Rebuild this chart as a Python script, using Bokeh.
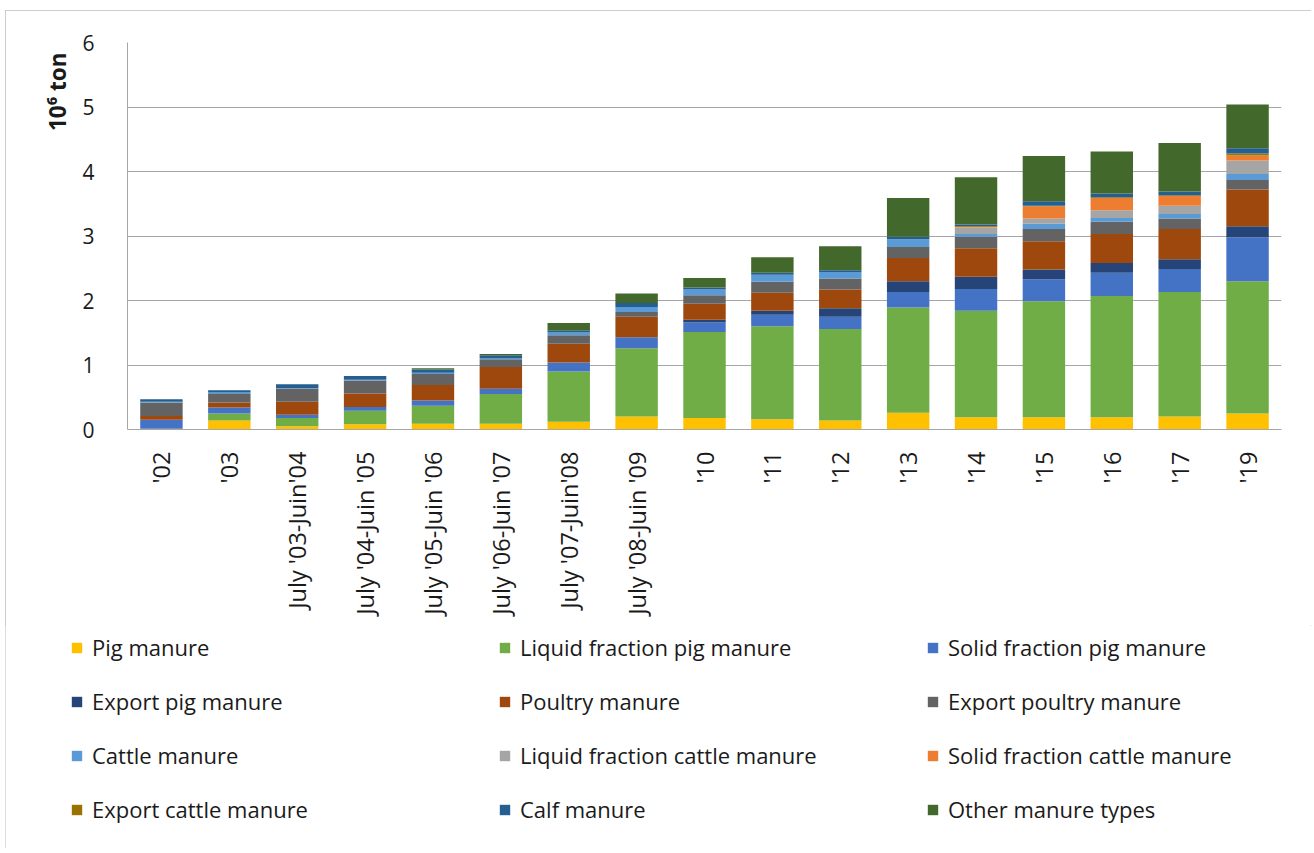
from math import pi
from bokeh.plotting import figure
from bokeh.layouts import column, row
from bokeh.models import (ColumnDataSource, FactorRange, Range1d, FixedTicker,
                          Legend, LegendItem, Title)
from bokeh.embed import file_html
from bokeh.resources import INLINE

categories = ["'02", "'03", "July '03-Juin'04", "July '04-Juin '05", "July '05-Juin '06",
              "July '06-Juin '07", "July '07-Juin'08", "July '08-Juin '09", "'10", "'11",
              "'12", "'13", "'14", "'15", "'16", "'17", "'19"]

pig_manure = [0.01, 0.14, 0.05, 0.08, 0.09, 0.09, 0.12, 0.20, 0.18, 0.16, 0.14, 0.26, 0.19, 0.19, 0.19, 0.20, 0.25]
liquid_fraction_pig = [0.0, 0.11, 0.13, 0.21, 0.28, 0.46, 0.78, 1.06, 1.33, 1.44, 1.42, 1.63, 1.65, 1.80, 1.88, 1.93, 2.05]
solid_fraction_pig = [0.14, 0.09, 0.05, 0.06, 0.08, 0.08, 0.14, 0.17, 0.15, 0.18, 0.19, 0.24, 0.34, 0.34, 0.36, 0.36, 0.68]
export_pig = [0.0, 0.0, 0.0, 0.0, 0.0, 0.0, 0.0, 0.0, 0.04, 0.06, 0.13, 0.17, 0.19, 0.15, 0.15, 0.15, 0.17]
poultry_manure = [0.06, 0.08, 0.20, 0.21, 0.24, 0.34, 0.29, 0.32, 0.25, 0.28, 0.29, 0.36, 0.44, 0.44, 0.45, 0.47, 0.57]
export_poultry = [0.21, 0.13, 0.20, 0.20, 0.17, 0.12, 0.13, 0.07, 0.13, 0.17, 0.17, 0.17, 0.18, 0.19, 0.19, 0.16, 0.15]
cattle_manure = [0.01, 0.025, 0.01, 0.01, 0.02, 0.02, 0.05, 0.08, 0.09, 0.11, 0.10, 0.12, 0.04, 0.08, 0.06, 0.07, 0.09]
liquid_fraction_cattle = [0.0, 0.0, 0.0, 0.0, 0.0, 0.0, 0.0, 0.0, 0.0, 0.0, 0.0, 0.0, 0.10, 0.08, 0.12, 0.13, 0.21]
solid_fraction_cattle = [0.0, 0.0, 0.0, 0.0, 0.0, 0.0, 0.0, 0.0, 0.0, 0.0, 0.0, 0.0, 0.01, 0.19, 0.19, 0.15, 0.08]
export_cattle = [0.0, 0.0, 0.0, 0.0, 0.0, 0.0, 0.0, 0.0, 0.0, 0.0, 0.0, 0.0, 0.01, 0.01, 0.01, 0.01, 0.03]
calf_manure = [0.04, 0.035, 0.06, 0.06, 0.05, 0.04, 0.02, 0.06, 0.03, 0.03, 0.03, 0.04, 0.03, 0.07, 0.06, 0.06, 0.08]
other_manure = [0.0, 0.0, 0.0, 0.0, 0.02, 0.02, 0.12, 0.15, 0.15, 0.24, 0.37, 0.60, 0.73, 0.70, 0.65, 0.75, 0.68]

series_names = ["Pig manure", "Liquid fraction pig manure", "Solid fraction pig manure",
                "Export pig manure", "Poultry manure", "Export poultry manure",
                "Cattle manure", "Liquid fraction cattle manure", "Solid fraction cattle manure",
                "Export cattle manure", "Calf manure", "Other manure types"]
series_values = [pig_manure, liquid_fraction_pig, solid_fraction_pig, export_pig,
                 poultry_manure, export_poultry, cattle_manure, liquid_fraction_cattle,
                 solid_fraction_cattle, export_cattle, calf_manure, other_manure]
colors = ["#FFC000", "#70AD47", "#4472C4", "#264478", "#9E480E", "#636363",
          "#5B9BD5", "#A5A5A5", "#ED7D31", "#997300", "#255E91", "#43682B"]

y_ticks = [0, 1, 2, 3, 4, 5, 6]

keys = ["s%d" % i for i in range(len(series_names))]
data = {"cat": categories}
for k, v in zip(keys, series_values):
    data[k] = v
source = ColumnDataSource(data)

FONT = "Open Sans"
TXT = "#1a1a1a"

# ---- main chart ----
p = figure(width=1306, height=615, x_range=FactorRange(*categories, range_padding=0),
           y_range=Range1d(0, 6), output_backend="svg", toolbar_location=None,
           min_border_left=122, min_border_right=30, min_border_top=32, min_border_bottom=196)
p.outline_line_color = None
p.background_fill_color = "white"
p.border_fill_color = "white"

renderers = p.vbar_stack(keys, x="cat", width=0.625, color=colors, source=source,
                         line_color=None)

p.xgrid.grid_line_color = None
p.ygrid.grid_line_color = "#a6a6a6"
p.ygrid.grid_line_width = 1
p.yaxis.ticker = FixedTicker(ticks=y_ticks)

for ax in (p.xaxis, p.yaxis):
    ax.axis_line_color = "#a6a6a6"
    ax.axis_line_width = 1
    ax.major_tick_line_color = None
    ax.minor_tick_line_color = None
    ax.major_label_text_font = FONT
    ax.major_label_text_color = TXT

p.yaxis.major_label_text_font_size = "21px"
p.yaxis.major_label_standoff = 27
p.xaxis.major_label_text_font_size = "23.5px"
p.xaxis.major_label_orientation = pi / 2
p.xaxis.major_label_standoff = 16

ytitle = Title(text="10\u2076 ton", align="right", offset=10, standoff=14,
               text_font=FONT, text_font_style="bold", text_font_size="22.5px",
               text_color=TXT)
p.add_layout(ytitle, "left")

# ---- legend panel ----
lg = figure(width=1306, height=223, x_range=Range1d(0, 1), y_range=Range1d(0, 1),
            output_backend="svg", toolbar_location=None,
            x_axis_type=None, y_axis_type=None,
            min_border_left=0, min_border_right=0, min_border_top=0, min_border_bottom=0)
lg.outline_line_color = None
lg.xgrid.visible = False
lg.ygrid.visible = False
lg.background_fill_color = "white"
lg.border_fill_color = "white"

legend_renderers = [lg.vbar(x=[0.5], top=[0.0], bottom=[0.0], width=0.0, color=c, line_color=None)
                    for c in colors]
items = [LegendItem(label=n, renderers=[r]) for n, r in zip(series_names, legend_renderers)]
legend = Legend(items=items, orientation="horizontal", ncols=3,
                location=(65, 24), padding=0, margin=0,
                border_line_color=None, background_fill_alpha=0,
                glyph_width=13, glyph_height=13, label_standoff=9,
                label_width=382, label_height=30, spacing=24,
                label_text_font=FONT, label_text_font_size="22px", label_text_color=TXT)
lg.add_layout(legend, "center")

layout = column(p, row(lg), spacing=0,
                styles={"outline": "1px solid #bdbdbd", "outline-offset": "-1px",
                        "margin-left": "5px", "margin-top": "10px"})

open("out.html", "w").write(file_html(layout, INLINE))
